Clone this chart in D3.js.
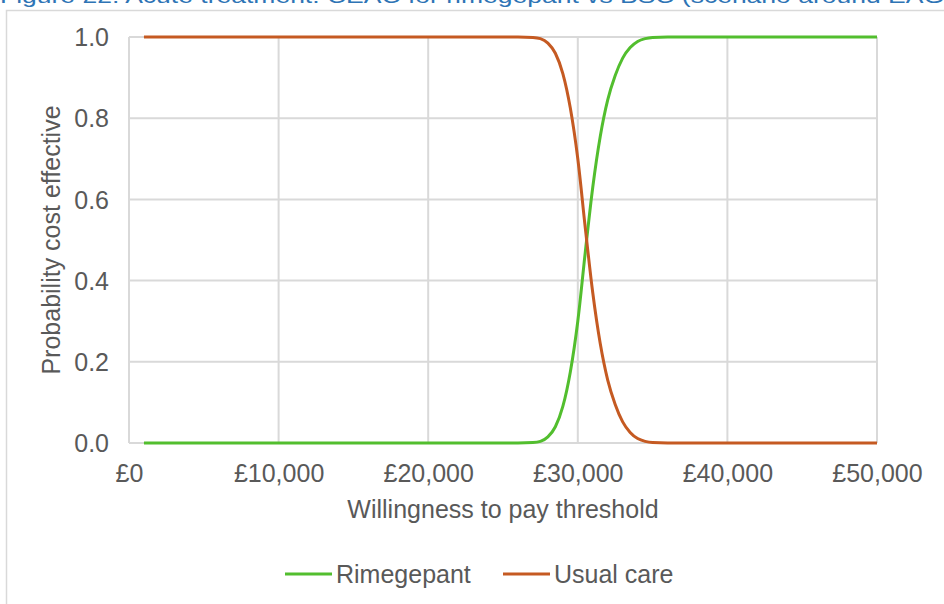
<!DOCTYPE html>
<html>
<head>
<meta charset="utf-8">
<script src="https://cdn.jsdelivr.net/npm/d3@7"></script>
<style>
  html, body { margin: 0; padding: 0; background: #fff; }
  svg { display: block; }
  text { font-family: "Liberation Sans", Arial, sans-serif; }
</style>
</head>
<body>
<svg id="chart" width="944" height="604"></svg>
<script>
// Willingness-to-pay thresholds (£) and probability of being cost effective
const wtp = [
  1000, 2000, 3000, 4000, 5000, 6000, 7000, 8000, 9000, 10000,
  11000, 12000, 13000, 14000, 15000, 16000, 17000, 18000, 19000, 20000,
  21000, 22000, 23000, 24000, 25000, 26000, 27000, 27500, 28000, 28500,
  29000, 29500, 30000, 30500, 31000, 31500, 32000, 32500, 33000, 33500,
  34000, 34500, 35000, 36000, 37000, 38000, 39000, 40000, 41000, 42000,
  43000, 44000, 45000, 46000, 47000, 48000, 49000, 50000
];
const rimegepant = [
  0, 0, 0, 0, 0, 0, 0, 0, 0, 0,
  0, 0, 0, 0, 0, 0, 0, 0, 0, 0,
  0, 0, 0, 0, 0, 0, 0.001, 0.004, 0.015, 0.04,
  0.09, 0.175, 0.30, 0.47, 0.63, 0.755, 0.845, 0.905, 0.948, 0.974,
  0.989, 0.996, 0.999, 1, 1, 1, 1, 1, 1, 1,
  1, 1, 1, 1, 1, 1, 1, 1
];
const usualCare = [
  1, 1, 1, 1, 1, 1, 1, 1, 1, 1,
  1, 1, 1, 1, 1, 1, 1, 1, 1, 1,
  1, 1, 1, 1, 1, 1, 0.999, 0.996, 0.985, 0.96,
  0.91, 0.825, 0.70, 0.53, 0.37, 0.245, 0.155, 0.095, 0.052, 0.026,
  0.011, 0.004, 0.001, 0, 0, 0, 0, 0, 0, 0,
  0, 0, 0, 0, 0, 0, 0, 0
];
const xTicks = [0, 10000, 20000, 30000, 40000, 50000];
const yTicks = [0, 0.2, 0.4, 0.6, 0.8, 1.0];
const seriesNames = ["Rimegepant", "Usual care"];
const seriesColors = ["#52BE2E", "#C55A22"];
const titleText = "Figure 22: Acute treatment: CEAC for rimegepant vs BSC (scenario around EAG";

const svg = d3.select("#chart");
const textColor = "#595959";
const gridColor = "#D9D9D9";
const fontSize = 25;

// Caption above the chart frame
svg.append("text")
  .attr("x", 0).attr("y", 3)
  .attr("font-family", "Carlito, 'Open Sans', sans-serif")
  .attr("font-size", 21)
  .attr("fill", "#2E74B5")
  .attr("textLength", 944)
  .attr("lengthAdjust", "spacingAndGlyphs")
  .text(titleText);

// Chart frame
svg.append("rect")
  .attr("x", 6.5).attr("y", 10.5)
  .attr("width", 1000).attr("height", 1000)
  .attr("fill", "#fff")
  .attr("stroke", gridColor).attr("stroke-width", 1.5);

const x = d3.scaleLinear().domain([0, 50000]).range([129, 877]);
const y = d3.scaleLinear().domain([0, 1]).range([443, 37]);

// Gridlines
svg.append("g").selectAll("line").data(yTicks).join("line")
  .attr("x1", x(0)).attr("x2", x(50000))
  .attr("y1", d => y(d)).attr("y2", d => y(d))
  .attr("stroke", gridColor).attr("stroke-width", 2);
svg.append("g").selectAll("line").data(xTicks).join("line")
  .attr("x1", d => x(d)).attr("x2", d => x(d))
  .attr("y1", y(0)).attr("y2", y(1))
  .attr("stroke", gridColor).attr("stroke-width", 2);

// Axes (labels only; lines come from gridlines)
const xAxis = d3.axisBottom(x).tickValues(xTicks).tickSize(0).tickPadding(0)
  .tickFormat(d => "£" + d3.format(",")(d));
const gx = svg.append("g").attr("transform", `translate(0,${y(0)})`).call(xAxis);
gx.select(".domain").remove();
gx.selectAll("text")
  .attr("y", 39).attr("dy", null)
  .attr("font-size", fontSize).attr("fill", textColor)
  .attr("font-family", "'Liberation Sans', Arial, sans-serif");

const yAxis = d3.axisLeft(y).tickValues(yTicks).tickSize(0).tickPadding(0)
  .tickFormat(d3.format(".1f"));
const gy = svg.append("g").attr("transform", `translate(${x(0)},0)`).call(yAxis);
gy.select(".domain").remove();
gy.selectAll("text")
  .attr("x", -20).attr("dy", "0.35em")
  .attr("font-size", fontSize).attr("fill", textColor)
  .attr("font-family", "'Liberation Sans', Arial, sans-serif");

// Axis titles
svg.append("text")
  .attr("x", (x(0) + x(50000)) / 2).attr("y", 518)
  .attr("text-anchor", "middle")
  .attr("font-size", fontSize).attr("fill", textColor)
  .text("Willingness to pay threshold");
svg.append("text")
  .attr("transform", `translate(60,${(y(0) + y(1)) / 2}) rotate(-90)`)
  .attr("text-anchor", "middle")
  .attr("font-size", fontSize).attr("fill", textColor)
  .text("Probability cost effective");

// Curves
const series = [rimegepant, usualCare];
const line = d3.line()
  .x(d => x(d[0])).y(d => y(d[1]))
  .curve(d3.curveMonotoneX);
series.forEach((vals, i) => {
  svg.append("path")
    .datum(wtp.map((w, k) => [w, vals[k]]))
    .attr("fill", "none")
    .attr("stroke", seriesColors[i])
    .attr("stroke-width", 3)
    .attr("stroke-linejoin", "round")
    .attr("d", line);
});

// Legend
const legendX = [285, 503];
const legend = svg.append("g");
seriesNames.forEach((name, i) => {
  legend.append("line")
    .attr("x1", legendX[i]).attr("x2", legendX[i] + 47)
    .attr("y1", 574).attr("y2", 574)
    .attr("stroke", seriesColors[i]).attr("stroke-width", 3);
  legend.append("text")
    .attr("x", legendX[i] + 51).attr("y", 583)
    .attr("font-size", fontSize).attr("fill", textColor)
    .text(name);
});
</script>
</body>
</html>
